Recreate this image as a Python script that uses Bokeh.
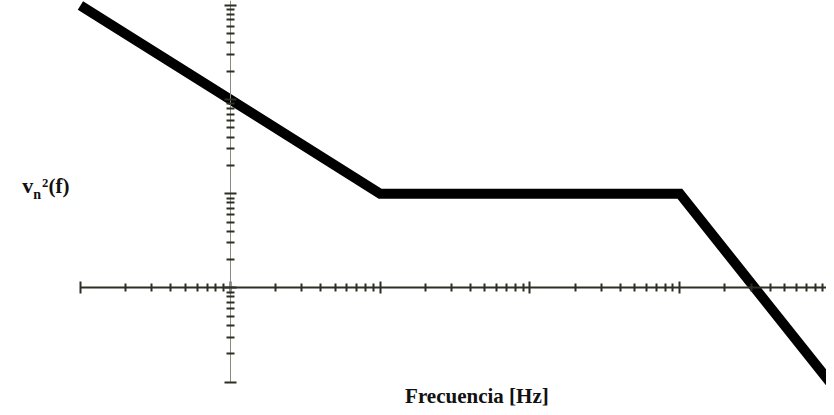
from bokeh.plotting import figure
from bokeh.models import LogAxis, FixedTicker, Label, Range1d, CustomJSTickFormatter
from bokeh.embed import file_html
from bokeh.resources import INLINE

# Noise spectral density (asymptotic, log-log)
freq_hz = [1, 100, 10000, 100000]
vn2 = [1000, 10, 10, 0.1]

# Axis tick structure (log decades and intermediate marks)
x_decades = [1, 10, 100, 1000, 10000, 100000, 1000000]
y_decades = [0.1, 1, 10, 100, 1000]
mantissas = [2, 3, 4, 5, 6, 7, 8, 9]
x_minor = [m * d for d in x_decades for m in mantissas]
y_minor = [m * d for d in y_decades for m in mantissas]

x_label = "Frecuencia [Hz]"

W, H = 826, 407
SX, SY = W / 834, H / 415
p = figure(width=W, height=H, x_axis_type="log", y_axis_type="log",
           x_range=Range1d(10 ** -0.53337, 10 ** 4.97885),
           y_range=Range1d(10 ** -1.27083, 10 ** 3.05208),
           x_axis_location=None, y_axis_location=None,
           output_backend="svg", toolbar_location=None, min_border=0)
p.outline_line_color = None
p.background_fill_color = "white"
p.border_fill_color = "white"
p.grid.visible = False

blank = CustomJSTickFormatter(code="return ''")
axis_col = "#2e2e24"

xa = LogAxis(fixed_location=1,
             ticker=FixedTicker(ticks=x_decades, minor_ticks=x_minor),
             bounds=(1, 1e6), formatter=blank)
xa.axis_line_color = axis_col
xa.axis_line_width = 2
xa.major_tick_line_color = axis_col
xa.major_tick_line_width = 2
xa.major_tick_in = 6
xa.major_tick_out = 6
xa.minor_tick_line_color = axis_col
xa.minor_tick_line_width = 2
xa.minor_tick_in = 4
xa.minor_tick_out = 4
p.add_layout(xa, "below")

ya = LogAxis(fixed_location=10,
             ticker=FixedTicker(ticks=y_decades, minor_ticks=y_minor),
             bounds=(0.1, 1e4), formatter=blank)
ya.axis_line_color = "#8a8a82"
ya.axis_line_width = 1
ya.major_tick_line_color = axis_col
ya.major_tick_line_width = 2
ya.major_tick_in = 6
ya.major_tick_out = 6
ya.minor_tick_line_color = axis_col
ya.minor_tick_line_width = 2
ya.minor_tick_in = 4
ya.minor_tick_out = 4
p.add_layout(ya, "left")

p.line(freq_hz, vn2, line_color="black", line_width=10, line_join="miter")

font = "Liberation Serif"
txt = "#111111"
p.add_layout(Label(x=481 * SX, y=12, x_units="screen", y_units="screen",
                   text=x_label, text_align="center", text_baseline="alphabetic",
                   text_font=font, text_font_style="bold",
                   text_font_size="21px", text_color=txt))
p.add_layout(Label(x=22 * SX, y=H - 189 * SY, x_units="screen", y_units="screen",
                   text="v", text_baseline="alphabetic",
                   text_font=font, text_font_style="bold", text_font_size="22px",
                   text_color=txt))
p.add_layout(Label(x=33 * SX, y=H - 198 * SY, x_units="screen", y_units="screen",
                   text="n", text_baseline="alphabetic",
                   text_font=font, text_font_style="bold", text_font_size="14px",
                   text_color=txt))
p.add_layout(Label(x=42 * SX, y=H - 189 * SY, x_units="screen", y_units="screen",
                   text="²(f)", text_baseline="alphabetic",
                   text_font=font, text_font_style="bold", text_font_size="21px",
                   text_color=txt))

open("out.html", "w").write(file_html(p, INLINE))
